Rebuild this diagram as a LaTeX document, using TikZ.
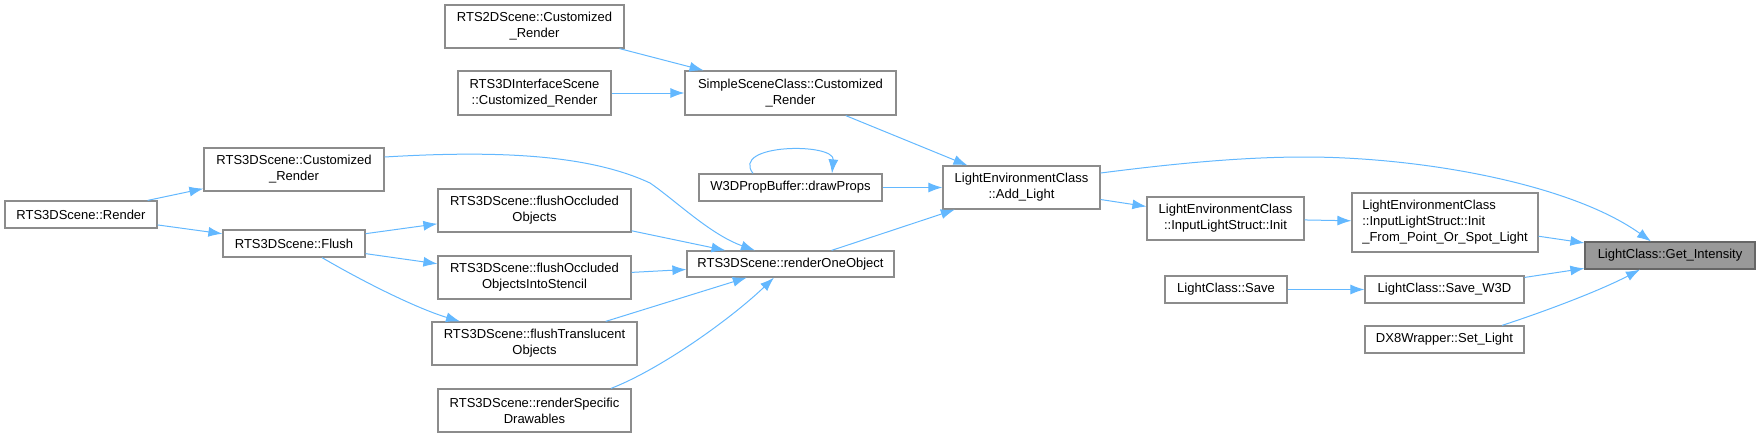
\documentclass[tikz,border=0pt]{standalone}
\usepackage{fontspec}
\setmainfont{Liberation Sans}
\usetikzlibrary{arrows.meta}
\definecolor{edgeblue}{HTML}{63B8FF}
\definecolor{boxgray}{HTML}{8C8C8C}
\definecolor{rootfill}{HTML}{999999}
\definecolor{rootdraw}{HTML}{666666}
\tikzset{
  box/.style={draw=boxgray, line width=1.2pt, fill=white, inner sep=0pt, align=center,
    font=\fontsize{13}{16}\selectfont},
  rootbox/.style={box, draw=rootdraw, fill=rootfill},
  edge/.style={draw=edgeblue, line width=1pt, -{Latex[length=14pt,width=10pt]}}
}
\begin{document}
\begin{tikzpicture}[x=1pt,y=-1pt]
\useasboundingbox (0,0) rectangle (1760,437);
% nodes
\node[box, minimum width=179pt, minimum height=43pt] (A) at (534.5,26.5) {RTS2DScene::Customized\\\_Render};
\node[box, minimum width=153pt, minimum height=44pt] (B) at (534.5,93) {RTS3DInterfaceScene\\::Customized\_Render};
\node[box, minimum width=211pt, minimum height=44pt] (C) at (790.5,93) {SimpleSceneClass::Customized\\\_Render};
\node[box, minimum width=180pt, minimum height=43pt] (D) at (294,169.5) {RTS3DScene::Customized\\\_Render};
\node[box, minimum width=152pt, minimum height=27pt] (E) at (81,214.5) {RTS3DScene::Render};
\node[box, minimum width=142pt, minimum height=27pt] (F) at (294,243.5) {RTS3DScene::Flush};
\node[box, minimum width=193pt, minimum height=43pt] (G) at (534.5,210.5) {RTS3DScene::flushOccluded\\Objects};
\node[box, minimum width=193pt, minimum height=43pt] (H) at (534.5,277.5) {RTS3DScene::flushOccluded\\ObjectsIntoStencil};
\node[box, minimum width=205pt, minimum height=43pt] (I) at (534.5,343.5) {RTS3DScene::flushTranslucent\\Objects};
\node[box, minimum width=193pt, minimum height=43pt] (J) at (534.5,410.5) {RTS3DScene::renderSpecific\\Drawables};
\node[box, minimum width=183pt, minimum height=27pt] (K) at (790.5,187.5) {W3DPropBuffer::drawProps};
\node[box, minimum width=207pt, minimum height=26pt] (L) at (790.5,264) {RTS3DScene::renderOneObject};
\node[box, minimum width=157pt, minimum height=43pt] (M) at (1021.5,187.5) {LightEnvironmentClass\\::Add\_Light};
\node[box, minimum width=157pt, minimum height=43pt] (N) at (1225.5,218.5) {LightEnvironmentClass\\::InputLightStruct::Init};
\node[box, minimum width=186pt, minimum height=59pt, align=left] (O) at (1445,222.5) {LightEnvironmentClass\\::InputLightStruct::Init\\\_From\_Point\_Or\_Spot\_Light};
\node[rootbox, minimum width=170pt, minimum height=27pt] (P) at (1670,255.5) {LightClass::Get\_Intensity};
\node[box, minimum width=122pt, minimum height=27pt] (Q) at (1226,289.5) {LightClass::Save};
\node[box, minimum width=159pt, minimum height=27pt] (R) at (1444.5,289.5) {LightClass::Save\_W3D};
\node[box, minimum width=159pt, minimum height=27pt] (S) at (1444.5,339.5) {DX8Wrapper::Set\_Light};
% edges
\draw[edge] (A) -- (C);
\draw[edge] (B) -- (C);
\draw[edge] (C) -- (M);
\draw[edge] (K) -- (M);
\draw[edge] ([xshift=-37.5pt]K.north) .. controls +(-23,-30) and +(3,-31) .. ([xshift=41.5pt]K.north);
\draw[edge] (L) -- (M);
\draw[edge] (M) -- (N);
\draw[edge] ([yshift=14.5pt]M.east) .. controls +(70,-9) and +(-65,0) .. (1305,157)
  .. controls +(115,0) and +(-81,-58) .. ([xshift=-19pt]P.north);
\draw[edge] (N) -- (O);
\draw[edge] (O) -- (P);
\draw[edge] (R) -- (P);
\draw[edge] ([xshift=57.5pt]S.north) .. controls +(43,-14) and +(-40,21) .. ([xshift=-30pt]P.south);
\draw[edge] (Q) -- (R);
\draw[edge] (E) -- (D);
\draw[edge] (E) -- (F);
\draw[edge] ([yshift=12.5pt]D.east) .. controls +(116,-7) and +(-60,-28) .. (650,183)
  .. controls +(25,17) and +(-45,-16) .. ([xshift=-35.5pt]L.north);
\draw[edge] (F) -- (G);
\draw[edge] (F) -- (H);
\draw[edge] ([xshift=28pt]F.south) .. controls +(48,28) and +(-40,-12) .. ([xshift=-74.5pt]I.north);
\draw[edge] (G) -- (L);
\draw[edge] (H) -- (L);
\draw[edge] (I) -- (L);
\draw[edge] ([xshift=76.5pt]J.north) .. controls +(49,-19) and +(-44,42) .. ([xshift=-16.5pt]L.south);
\end{tikzpicture}
\end{document}
